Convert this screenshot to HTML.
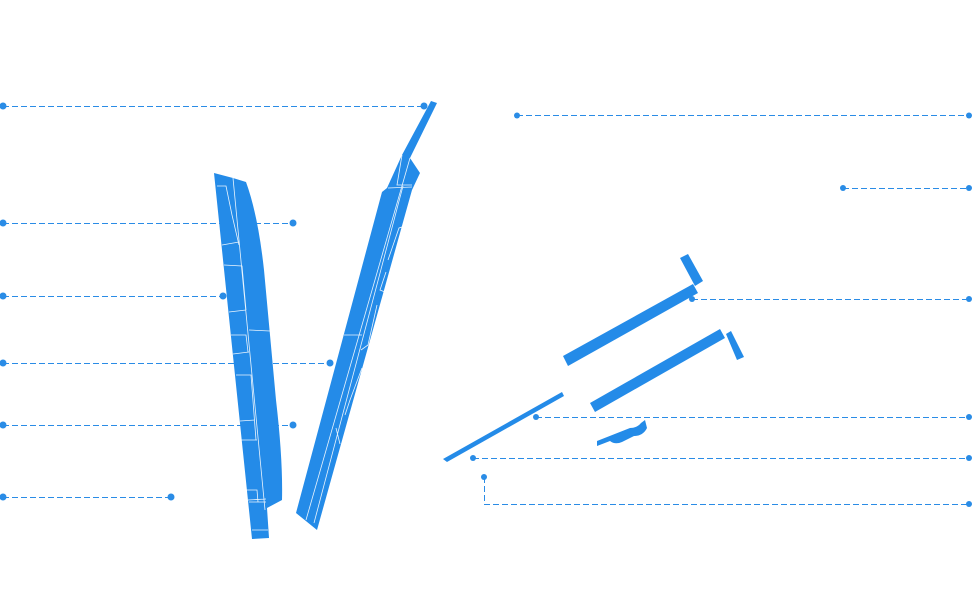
<!DOCTYPE html>
<html><head><style>html,body{margin:0;padding:0;background:#fff}svg{display:block}</style></head>
<body>
<svg width="972" height="601" viewBox="0 0 972 601" xmlns="http://www.w3.org/2000/svg">
<g stroke="#2a8ce6" stroke-width="1" stroke-dasharray="6,3" fill="none">
<path d="M3 106.5H424M3 223.5H293M3 296.5H223M3 363.5H330M3 425.5H293M3 497.5H171"/>
<path d="M517 115.5H969M843 188.5H969M692 299.5H969M536 417.5H969M473 458.5H969M484.5 477V504.5H969"/>
</g>
<g fill="#2a8ce6">
<circle cx="3" cy="106" r="3.5"/><circle cx="424" cy="106" r="3.5"/>
<circle cx="3" cy="223" r="3.5"/><circle cx="293" cy="223" r="3.5"/>
<circle cx="3" cy="296" r="3.5"/><circle cx="223" cy="296" r="3.5"/>
<circle cx="3" cy="363" r="3.5"/><circle cx="330" cy="363" r="3.5"/>
<circle cx="3" cy="425" r="3.5"/><circle cx="293" cy="425" r="3.5"/>
<circle cx="3" cy="497" r="3.5"/><circle cx="171" cy="497" r="3.5"/>
<circle cx="517" cy="115.5" r="3"/><circle cx="969" cy="115.5" r="3"/>
<circle cx="843" cy="188" r="3"/><circle cx="969" cy="188" r="3"/>
<circle cx="692" cy="299" r="3"/><circle cx="969" cy="299" r="3"/>
<circle cx="536" cy="417" r="3"/><circle cx="969" cy="417" r="3"/>
<circle cx="473" cy="458" r="3"/><circle cx="969" cy="458" r="3"/>
<circle cx="484" cy="477" r="3"/><circle cx="969" cy="504" r="3"/>
</g>
<g fill="#248be8">
<path d="M214 173L233 178L246 182Q258 215 264 270L276 400Q283 460 282 500L267 508L269 538L252 539Z"/>
<path d="M431 101L437 103L410 158L420 173L412 190L317 530L296 513L382 192L387 188L402 155Z"/>
<path d="M563 356L693 284L698 293L568 366Z"/>
<path d="M680 258L688 254L703 281L695 286Z"/>
<path d="M590 403L720 329L725 338L595 412Z"/>
<path d="M726 334L731 331L744 357L737 360Z"/>
<path d="M443 459L562 392L564 396L447 462Z"/>
<path d="M597 441L630 428Q637 428 641 423L645 420L647 428Q643 436 634 436L622 442Q615 445 610 441L597 446Z"/>
</g>
<g stroke="#fff" stroke-width="0.8" fill="none" opacity="0.9">
<path d="M233 178L265 510M217 186L226 186L232 215L239 245M222 245L239 242M224 265L242 266L246 310M229 312L246 310M231 335L246 335L248 352M233 354L249 352M236 375L251 375L256 440M240 421L255 420M241 440L257 440M249 330L270 331M243 490L257 490L258 502M248 500L266 499M249 502L266 502M252 530L268 530"/>
<path d="M410 158L306 520M402 155L397 185L412 185M388 188L412 187M418 222L399 228L388 260M386 272L380 290L385 292M377 305L368 345L361 350M344 335L362 335M362 368L350 400L345 415M336 428L340 444M403 186L314 523"/>
</g>
</svg>
</body></html>
